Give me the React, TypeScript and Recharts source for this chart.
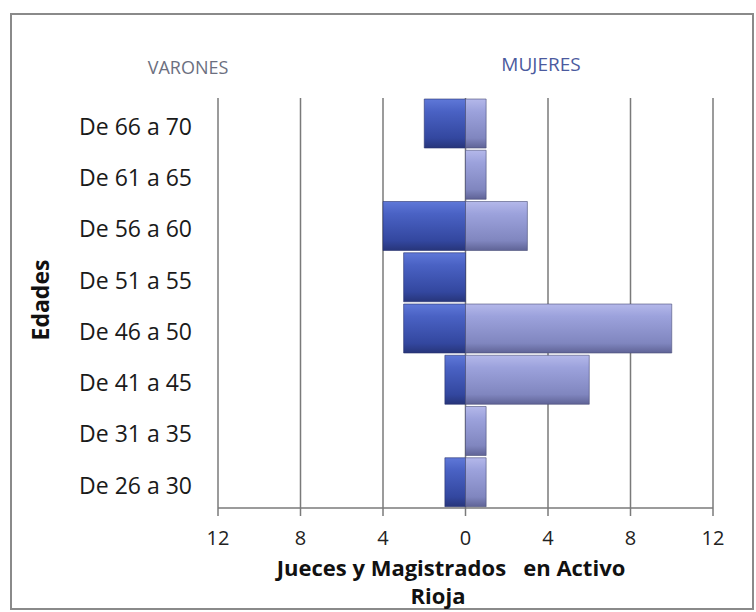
import { BarChart, Bar, XAxis, YAxis, CartesianGrid } from 'recharts';

// Rangos de edad, de arriba a abajo
const edades = ['De 66 a 70', 'De 61 a 65', 'De 56 a 60', 'De 51 a 55', 'De 46 a 50', 'De 41 a 45', 'De 31 a 35', 'De 26 a 30'];
// Varones se dibujan a la izquierda (negativos)
const varones = [-2, 0, -4, -3, -3, -1, 0, -1];
const mujeres = [1, 1, 3, 0, 10, 6, 1, 1];
const xTicks = [-12, -8, -4, 0, 4, 8, 12];

const data = edades.map((e, i) => ({ edad: e, varones: varones[i], mujeres: mujeres[i] }));

const font = '"Open Sans", sans-serif';

export default function App() {
    return (
        <div style={{ position: 'absolute', left: 0, top: 0, width: 756, height: 612, background: '#fff', fontFamily: font }}>
            <div style={{ position: 'absolute', left: 10, top: 13, width: 740, height: 593, border: '2px solid #8a8a8a' }} />
            <BarChart
                width={756}
                height={612}
                data={data}
                layout="vertical"
                stackOffset="sign"
                barCategoryGap={1}
                margin={{ top: 98, right: 43, left: 18, bottom: 74 }}
            >
                <defs>
                    <linearGradient id="gVar" x1="0" y1="0" x2="0" y2="1">
                        <stop offset="0%" stopColor="#5f78d8" />
                        <stop offset="25%" stopColor="#4a62c4" />
                        <stop offset="80%" stopColor="#33479f" />
                        <stop offset="100%" stopColor="#27357a" />
                    </linearGradient>
                    <linearGradient id="gMuj" x1="0" y1="0" x2="0" y2="1">
                        <stop offset="0%" stopColor="#b4b8ea" />
                        <stop offset="25%" stopColor="#9ca2dc" />
                        <stop offset="80%" stopColor="#8086bf" />
                        <stop offset="100%" stopColor="#5f6396" />
                    </linearGradient>
                </defs>
                <CartesianGrid horizontal={false} stroke="#7a7a7a" strokeWidth={1.5} />
                <XAxis
                    type="number"
                    domain={[-12, 12]}
                    ticks={xTicks}
                    tickFormatter={(v: number) => String(Math.abs(v))}
                    tick={{ fill: '#222', fontSize: 20, fontFamily: font }}
                    stroke="#7a7a7a"
                    strokeWidth={1.5}
                    tickSize={8}
                    tickMargin={15}
                />
                <YAxis
                    type="category"
                    dataKey="edad"
                    width={200}
                    axisLine={false}
                    tickLine={false}
                    tickSize={0}
                    tickMargin={26}
                    tick={{ fill: '#1a1a1a', fontSize: 23, fontFamily: font, dy: 3 }}
                />
                <Bar dataKey="varones" stackId="a" fill="url(#gVar)" stroke="#2a3470" strokeOpacity={0.6} isAnimationActive={false} />
                <Bar dataKey="mujeres" stackId="a" fill="url(#gMuj)" stroke="#4a4e78" strokeOpacity={0.6} isAnimationActive={false} />
            </BarChart>
            <div style={{ position: 'absolute', left: 188, top: 67, transform: 'translate(-50%, -50%)', fontSize: 18, color: '#6c6f80' }}>VARONES</div>
            <div style={{ position: 'absolute', left: 541, top: 64, transform: 'translate(-50%, -50%)', fontSize: 19, color: '#4b5a9e' }}>MUJERES</div>
            <div style={{ position: 'absolute', left: 40, top: 300, transform: 'translate(-50%, -50%) rotate(-90deg)', fontSize: 23, fontWeight: 700, color: '#111' }}>Edades</div>
            <div style={{ position: 'absolute', left: 451, top: 567, transform: 'translate(-50%, -50%)', fontSize: 22, fontWeight: 700, color: '#111', whiteSpace: 'pre' }}>Jueces y Magistrados   en Activo</div>
            <div style={{ position: 'absolute', left: 438, top: 595, transform: 'translate(-50%, -50%)', fontSize: 22, fontWeight: 700, color: '#111' }}>Rioja</div>
        </div>
    );
}
